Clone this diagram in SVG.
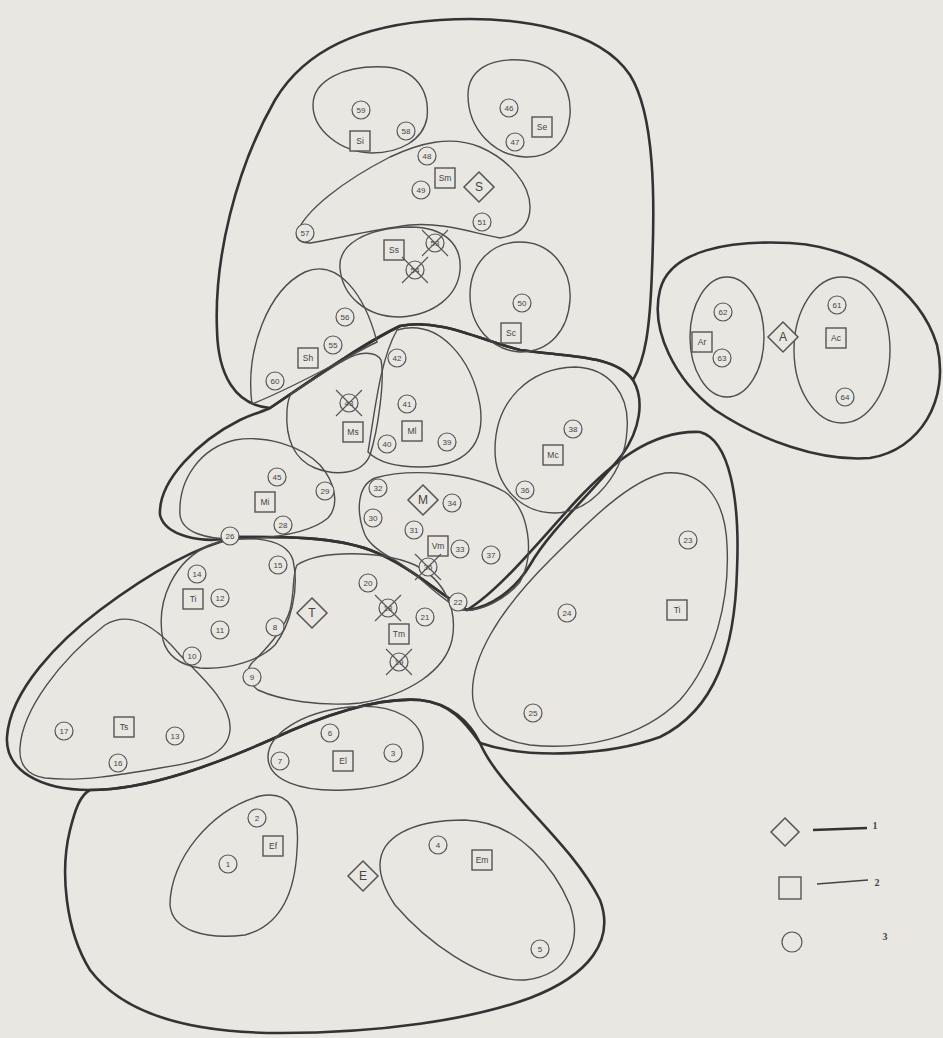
<svg xmlns="http://www.w3.org/2000/svg" width="943" height="1038" viewBox="0 0 943 1038">
<style>
.thick{fill:none;stroke:#333;stroke-width:2.6;stroke-linejoin:round}
.thin{fill:none;stroke:#4d4d4d;stroke-width:1.4}
.c{fill:#e9e7e2;stroke:#555;stroke-width:1.2}
.sq{fill:#e9e7e2;stroke:#555;stroke-width:1.4}
.dm{fill:#e9e7e2;stroke:#555;stroke-width:1.5}
.x{stroke:#555;stroke-width:1.1;fill:none}
text{font-family:"Liberation Sans",Arial,sans-serif;fill:#444;text-anchor:middle}
.n{font-size:8px}
.s{font-size:8.5px}
.d{font-size:12px}
.lg{font-size:10px;font-family:"Liberation Serif",serif;font-weight:bold}
</style>
<defs>
<circle id="cc" r="9" class="c"/>
<rect id="ss" x="-10" y="-10" width="20" height="20" class="sq"/>
<polygon id="dd" points="0,-15 15,0 0,15 -15,0" class="dm"/>
<path id="xx" d="M-13,-13 L13,13 M13,-13 L-13,13" class="x"/>
</defs>
<rect width="943" height="1038" fill="#e9e7e2"/>

<g id="groups">
<path id="groupS" class="thick" d="M270,408 C235,405 218,375 217,330 C214,260 235,170 275,100 C305,50 360,25 440,20 C520,15 600,30 630,75 C655,115 655,200 652,270 C650,330 645,360 633,380 C615,355 570,357 520,350 C480,340 440,318 400,326 C360,345 300,388 270,408 Z"/>
<path id="groupM" class="thick" d="M270,408 C300,388 360,345 400,326 C440,318 480,340 520,350 C570,357 615,355 633,380 C645,400 640,430 622,455 C590,495 550,530 530,565 C515,590 490,608 467,610 C440,595 410,565 370,550 C330,535 270,537 237,537 C200,545 165,535 160,515 C158,480 200,440 240,420 C255,413 262,412 270,408 Z"/>
<path id="groupT" class="thick" d="M237,537 C270,537 330,535 370,550 C410,565 440,595 467,610 C500,590 540,540 577,500 C610,465 650,430 700,432 C730,440 740,500 737,570 C735,650 715,710 660,737 C610,755 530,760 480,743 C465,722 450,703 420,700 C380,697 330,712 270,740 C220,762 150,790 90,790 C40,790 5,770 7,737 C10,690 60,640 100,610 C140,580 190,548 237,537 Z"/>
<path id="groupE" class="thick" d="M90,790 C150,790 220,762 270,740 C330,712 380,697 420,700 C450,703 470,722 480,743 C500,790 570,840 600,900 C615,940 590,975 530,998 C470,1020 380,1033 280,1033 C180,1033 120,1010 90,970 C65,930 60,870 70,830 C75,810 80,795 90,790 Z"/>
<path id="groupA" class="thick" d="M660,290 C670,250 730,240 790,243 C860,247 920,290 937,345 C950,400 920,450 870,458 C820,462 760,440 715,410 C675,380 650,330 660,290 Z"/>
</g>

<g id="blobs">
<path class="thin" d="M313,105 C313,80 345,65 385,67 C415,69 430,90 427,118 C423,140 400,153 372,153 C340,152 313,130 313,105 Z"/>
<path class="thin" d="M468,95 C468,70 490,58 520,60 C555,62 572,85 570,115 C568,142 550,158 525,157 C495,156 468,130 468,95 Z"/>
<path class="thin" d="M297,233 C305,210 345,180 390,157 C420,143 450,135 480,147 C510,160 530,185 530,207 C530,225 520,235 500,238 C470,232 440,222 410,225 C370,230 340,238 310,243 C300,243 295,238 297,233 Z"/>
<path class="thin" d="M340,268 C338,245 365,228 410,227 C445,227 462,245 460,270 C458,295 435,315 400,317 C365,317 342,295 340,268 Z"/>
<path class="thin" d="M470,295 C470,265 490,242 520,242 C552,242 572,270 570,300 C568,330 550,352 520,352 C490,350 470,325 470,295 Z"/>
<path class="thin" d="M252,404 C245,350 268,290 305,272 C338,258 365,295 377,342 C350,355 300,385 252,404 Z"/>
<path class="thin" d="M345,360 C358,352 375,350 381,360 C385,380 378,430 370,455 C362,475 335,476 315,468 C295,460 285,440 287,410 C288,398 290,395 292,393 C310,382 330,368 345,360 Z"/>
<path class="thin" d="M397,330 C440,318 472,360 480,405 C486,445 465,467 420,467 C395,467 378,462 368,452 C375,410 380,360 397,330 Z"/>
<path class="thin" d="M495,450 C495,400 530,368 575,367 C610,368 630,395 627,430 C625,470 595,512 555,513 C520,513 495,485 495,450 Z"/>
<path class="thin" d="M180,515 C178,480 200,448 235,440 C265,435 300,445 320,465 C335,482 340,505 328,518 C310,533 275,538 240,539 C205,540 182,532 180,515 Z"/>
<path class="thin" d="M365,535 C355,510 358,485 375,478 C410,468 470,472 505,492 C530,510 535,555 520,582 C505,600 480,612 462,610 C440,600 420,575 395,560 C380,552 370,545 365,535 Z"/>
<path class="thin" d="M163,640 C155,600 175,560 210,545 C240,535 285,535 293,560 C300,590 290,625 275,645 C260,660 230,670 200,668 C180,665 167,655 163,640 Z"/>
<path class="thin" d="M297,565 C320,550 380,550 415,565 C445,580 458,610 452,640 C445,670 410,695 360,703 C320,707 280,700 258,690 C245,680 245,668 255,660 C270,645 285,628 290,610 C295,590 292,575 297,565 Z"/>
<path class="thin" d="M20,748 C22,710 60,660 105,625 C130,610 155,625 180,655 C205,680 232,705 230,730 C228,755 200,762 160,768 C120,775 80,782 45,778 C25,775 19,762 20,748 Z"/>
<path class="thin" d="M473,700 C468,660 500,610 550,560 C590,520 630,480 665,473 C700,470 725,495 727,545 C730,600 715,660 680,700 C640,740 580,750 530,745 C495,740 476,722 473,700 Z"/>
<path class="thin" d="M268,757 C268,735 300,712 350,707 C395,703 425,720 423,750 C421,775 390,788 345,790 C300,792 268,780 268,757 Z"/>
<path class="thin" d="M170,905 C170,860 210,810 260,796 C290,790 300,810 297,850 C295,890 283,925 245,935 C205,940 172,930 170,905 Z"/>
<path class="thin" d="M380,865 C380,838 410,820 465,820 C520,822 555,870 570,905 C582,940 570,975 525,980 C480,982 425,940 395,905 C385,890 380,878 380,865 Z"/>
<ellipse class="thin" cx="727" cy="337" rx="37" ry="60"/>
<ellipse class="thin" cx="842" cy="350" rx="48" ry="73"/>
</g>

<g id="nodes">
<g id="n59" transform="translate(361,110)"><use href="#cc"/><text class="n" y="3">59</text></g>
<g id="sSi" transform="translate(360,141)"><use href="#ss"/><text class="s" y="3">Si</text></g>
<g id="n58" transform="translate(406,131)"><use href="#cc"/><text class="n" y="3">58</text></g>
<g id="n46" transform="translate(509,108)"><use href="#cc"/><text class="n" y="3">46</text></g>
<g id="n47" transform="translate(515,142)"><use href="#cc"/><text class="n" y="3">47</text></g>
<g id="sSe" transform="translate(542,127)"><use href="#ss"/><text class="s" y="3">Se</text></g>
<g id="n48" transform="translate(427,156)"><use href="#cc"/><text class="n" y="3">48</text></g>
<g id="sSm" transform="translate(445,178)"><use href="#ss"/><text class="s" y="3">Sm</text></g>
<g id="dS" transform="translate(479,187)"><use href="#dd"/><text class="d" y="4">S</text></g>
<g id="n49" transform="translate(421,190)"><use href="#cc"/><text class="n" y="3">49</text></g>
<g id="n51" transform="translate(482,222)"><use href="#cc"/><text class="n" y="3">51</text></g>
<g id="n57" transform="translate(305,233)"><use href="#cc"/><text class="n" y="3">57</text></g>
<g id="sSs" transform="translate(394,250)"><use href="#ss"/><text class="s" y="3">Ss</text></g>
<g id="n53" transform="translate(435,243)"><use href="#cc"/><text class="n" y="3">53</text><use href="#xx"/></g>
<g id="n54" transform="translate(415,270)"><use href="#cc"/><text class="n" y="3">54</text><use href="#xx"/></g>
<g id="n50" transform="translate(522,303)"><use href="#cc"/><text class="n" y="3">50</text></g>
<g id="sSc" transform="translate(511,333)"><use href="#ss"/><text class="s" y="3">Sc</text></g>
<g id="n56" transform="translate(345,317)"><use href="#cc"/><text class="n" y="3">56</text></g>
<g id="n55" transform="translate(333,345)"><use href="#cc"/><text class="n" y="3">55</text></g>
<g id="sSh" transform="translate(308,358)"><use href="#ss"/><text class="s" y="3">Sh</text></g>
<g id="n60" transform="translate(275,381)"><use href="#cc"/><text class="n" y="3">60</text></g>

<g id="n43" transform="translate(349,403)"><use href="#cc"/><text class="n" y="3">43</text><use href="#xx"/></g>
<g id="sMs" transform="translate(353,432)"><use href="#ss"/><text class="s" y="3">Ms</text></g>
<g id="n42" transform="translate(397,358)"><use href="#cc"/><text class="n" y="3">42</text></g>
<g id="n41" transform="translate(407,404)"><use href="#cc"/><text class="n" y="3">41</text></g>
<g id="sMl" transform="translate(412,431)"><use href="#ss"/><text class="s" y="3">Ml</text></g>
<g id="n40" transform="translate(387,444)"><use href="#cc"/><text class="n" y="3">40</text></g>
<g id="n39" transform="translate(447,442)"><use href="#cc"/><text class="n" y="3">39</text></g>
<g id="n38" transform="translate(573,429)"><use href="#cc"/><text class="n" y="3">38</text></g>
<g id="sMc" transform="translate(553,455)"><use href="#ss"/><text class="s" y="3">Mc</text></g>
<g id="n36" transform="translate(525,490)"><use href="#cc"/><text class="n" y="3">36</text></g>
<g id="n45" transform="translate(277,477)"><use href="#cc"/><text class="n" y="3">45</text></g>
<g id="sMi" transform="translate(265,502)"><use href="#ss"/><text class="s" y="3">Mi</text></g>
<g id="n29" transform="translate(325,491)"><use href="#cc"/><text class="n" y="3">29</text></g>
<g id="n28" transform="translate(283,525)"><use href="#cc"/><text class="n" y="3">28</text></g>
<g id="n26" transform="translate(230,536)"><use href="#cc"/><text class="n" y="3">26</text></g>
<g id="n32" transform="translate(378,488)"><use href="#cc"/><text class="n" y="3">32</text></g>
<g id="n30" transform="translate(373,518)"><use href="#cc"/><text class="n" y="3">30</text></g>
<g id="dM" transform="translate(423,500)"><use href="#dd"/><text class="d" y="4">M</text></g>
<g id="n34" transform="translate(452,503)"><use href="#cc"/><text class="n" y="3">34</text></g>
<g id="n31" transform="translate(414,530)"><use href="#cc"/><text class="n" y="3">31</text></g>
<g id="sVm" transform="translate(438,546)"><use href="#ss"/><text class="s" y="3">Vm</text></g>
<g id="n33" transform="translate(460,549)"><use href="#cc"/><text class="n" y="3">33</text></g>
<g id="n37" transform="translate(491,555)"><use href="#cc"/><text class="n" y="3">37</text></g>
<g id="n35" transform="translate(428,567)"><use href="#cc"/><text class="n" y="3">35</text><use href="#xx"/></g>

<g id="n14" transform="translate(197,574)"><use href="#cc"/><text class="n" y="3">14</text></g>
<g id="sTi1" transform="translate(193,599)"><use href="#ss"/><text class="s" y="3">Ti</text></g>
<g id="n12" transform="translate(220,598)"><use href="#cc"/><text class="n" y="3">12</text></g>
<g id="n11" transform="translate(220,630)"><use href="#cc"/><text class="n" y="3">11</text></g>
<g id="n10" transform="translate(192,656)"><use href="#cc"/><text class="n" y="3">10</text></g>
<g id="n15" transform="translate(278,565)"><use href="#cc"/><text class="n" y="3">15</text></g>
<g id="n8" transform="translate(275,627)"><use href="#cc"/><text class="n" y="3">8</text></g>
<g id="n9" transform="translate(252,677)"><use href="#cc"/><text class="n" y="3">9</text></g>
<g id="dT" transform="translate(312,613)"><use href="#dd"/><text class="d" y="4">T</text></g>
<g id="n20" transform="translate(368,583)"><use href="#cc"/><text class="n" y="3">20</text></g>
<g id="n18" transform="translate(388,608)"><use href="#cc"/><text class="n" y="3">18</text><use href="#xx"/></g>
<g id="n21" transform="translate(425,617)"><use href="#cc"/><text class="n" y="3">21</text></g>
<g id="sTm" transform="translate(399,634)"><use href="#ss"/><text class="s" y="3">Tm</text></g>
<g id="n19" transform="translate(399,662)"><use href="#cc"/><text class="n" y="3">19</text><use href="#xx"/></g>
<g id="n22" transform="translate(458,602)"><use href="#cc"/><text class="n" y="3">22</text></g>
<g id="n23" transform="translate(688,540)"><use href="#cc"/><text class="n" y="3">23</text></g>
<g id="sTi2" transform="translate(677,610)"><use href="#ss"/><text class="s" y="3">Ti</text></g>
<g id="n24" transform="translate(567,613)"><use href="#cc"/><text class="n" y="3">24</text></g>
<g id="n25" transform="translate(533,713)"><use href="#cc"/><text class="n" y="3">25</text></g>
<g id="n17" transform="translate(64,731)"><use href="#cc"/><text class="n" y="3">17</text></g>
<g id="sTs" transform="translate(124,727)"><use href="#ss"/><text class="s" y="3">Ts</text></g>
<g id="n16" transform="translate(118,763)"><use href="#cc"/><text class="n" y="3">16</text></g>
<g id="n13" transform="translate(175,736)"><use href="#cc"/><text class="n" y="3">13</text></g>

<g id="n6" transform="translate(330,733)"><use href="#cc"/><text class="n" y="3">6</text></g>
<g id="n7" transform="translate(280,761)"><use href="#cc"/><text class="n" y="3">7</text></g>
<g id="sEl" transform="translate(343,761)"><use href="#ss"/><text class="s" y="3">El</text></g>
<g id="n3" transform="translate(393,753)"><use href="#cc"/><text class="n" y="3">3</text></g>
<g id="n2" transform="translate(257,818)"><use href="#cc"/><text class="n" y="3">2</text></g>
<g id="sEf" transform="translate(273,846)"><use href="#ss"/><text class="s" y="3">Ef</text></g>
<g id="n1" transform="translate(228,864)"><use href="#cc"/><text class="n" y="3">1</text></g>
<g id="n4" transform="translate(438,845)"><use href="#cc"/><text class="n" y="3">4</text></g>
<g id="sEm" transform="translate(482,860)"><use href="#ss"/><text class="s" y="3">Em</text></g>
<g id="n5" transform="translate(540,949)"><use href="#cc"/><text class="n" y="3">5</text></g>
<g id="dE" transform="translate(363,876)"><use href="#dd"/><text class="d" y="4">E</text></g>

<g id="n62" transform="translate(723,312)"><use href="#cc"/><text class="n" y="3">62</text></g>
<g id="sAr" transform="translate(702,342)"><use href="#ss"/><text class="s" y="3">Ar</text></g>
<g id="n63" transform="translate(722,358)"><use href="#cc"/><text class="n" y="3">63</text></g>
<g id="dA" transform="translate(783,337)"><use href="#dd"/><text class="d" y="4">A</text></g>
<g id="n61" transform="translate(837,305)"><use href="#cc"/><text class="n" y="3">61</text></g>
<g id="sAc" transform="translate(836,338)"><use href="#ss"/><text class="s" y="3">Ac</text></g>
<g id="n64" transform="translate(845,397)"><use href="#cc"/><text class="n" y="3">64</text></g>
</g>

<g id="legend">
<polygon points="785,818 799,832 785,846 771,832" class="dm"/>
<line x1="813" y1="830" x2="867" y2="828" stroke="#333" stroke-width="2.6"/>
<text class="lg" x="875" y="829">1</text>
<rect x="779" y="877" width="22" height="22" class="sq"/>
<line x1="817" y1="884" x2="868" y2="880" stroke="#444" stroke-width="1.4"/>
<text class="lg" x="877" y="886">2</text>
<circle cx="792" cy="942" r="10" class="c"/>
<text class="lg" x="885" y="940">3</text>
</g>
</svg>
